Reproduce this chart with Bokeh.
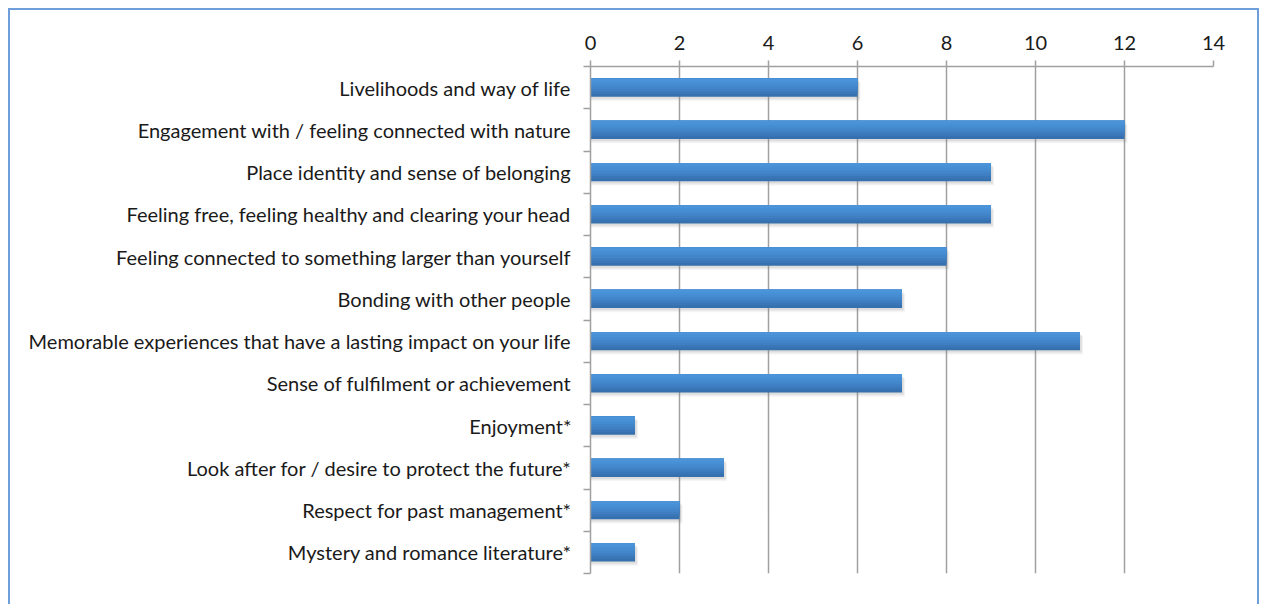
from bokeh.plotting import figure
from bokeh.models import Range1d, FixedTicker, ColumnDataSource
from bokeh.transform import dodge
from bokeh.embed import file_html
from bokeh.resources import INLINE

categories = [
    "Livelihoods and way of life",
    "Engagement with / feeling connected with nature",
    "Place identity and sense of belonging",
    "Feeling free, feeling healthy and clearing your head",
    "Feeling connected to something larger than yourself",
    "Bonding with other people",
    "Memorable experiences that have a lasting impact on your life",
    "Sense of fulfilment or achievement",
    "Enjoyment*",
    "Look after for / desire to protect the future*",
    "Respect for past management*",
    "Mystery and romance literature*",
]
values = [6, 12, 9, 9, 8, 7, 11, 7, 1, 3, 2, 1]
x_ticks = [0, 2, 4, 6, 8, 10, 12, 14]

n = len(categories)
ypos = [i + 0.5 for i in range(n)]
src = ColumnDataSource(dict(y=ypos, v=values, name=categories))

FONT = "Lato"
p = figure(width=1251, height=596, x_range=Range1d(0, 14), y_range=Range1d(n, 0),
           x_axis_location="above", output_backend="svg", toolbar_location=None,
           min_border_left=580, min_border_right=48, min_border_top=56, min_border_bottom=33)
p.styles = {"border-top": "2px solid #6f9fda", "border-left": "2px solid #6f9fda",
            "border-right": "2px solid #6f9fda", "box-sizing": "border-box",
            "margin-left": "8px", "margin-top": "8px"}
p.outline_line_color = None
p.background_fill_color = "white"
p.border_fill_color = "white"

# x axis (top)
p.xaxis.ticker = FixedTicker(ticks=x_ticks)
p.xaxis.axis_line_color = "#a0a0a0"
p.xaxis.axis_line_width = 1.5
p.xaxis.major_tick_line_color = "#a0a0a0"
p.xaxis.major_tick_line_width = 1.5
p.xaxis.major_tick_out = 6
p.xaxis.major_tick_in = 0
p.xaxis.minor_tick_line_color = None
p.xaxis.major_label_text_font = FONT
p.xaxis.major_label_text_font_size = "20px"
p.xaxis.major_label_text_color = "#1a1a1a"
p.xaxis.major_label_standoff = 11

# y axis (left)
p.yaxis.ticker = FixedTicker(ticks=ypos, minor_ticks=list(range(n + 1)))
p.yaxis.major_label_overrides = {y: c for y, c in zip(ypos, categories)}
p.yaxis.axis_line_color = "#a0a0a0"
p.yaxis.axis_line_width = 1.5
p.yaxis.major_tick_line_color = None
p.yaxis.major_tick_out = 6
p.yaxis.minor_tick_line_color = "#a0a0a0"
p.yaxis.minor_tick_line_width = 1.5
p.yaxis.minor_tick_out = 7
p.yaxis.minor_tick_in = 0
p.yaxis.major_label_text_font = FONT
p.yaxis.major_label_text_font_size = "20px"
p.yaxis.major_label_text_color = "#1a1a1a"
p.yaxis.major_label_standoff = 12

p.ygrid.grid_line_color = None
p.xgrid.ticker = FixedTicker(ticks=x_ticks)
p.xgrid.grid_line_color = "#a0a0a0"
p.xgrid.grid_line_width = 1.5

h = 0.43
# soft shadow
for off, a in [(0.10, 0.07), (0.075, 0.09), (0.05, 0.13)]:
    p.hbar(y=dodge("y", off, range=p.y_range), left=0, right=dodge("v", off * 0.7), height=h,
           source=src, fill_color="#808080", fill_alpha=a, line_color=None)

# gradient bar: nested layers from bar top, darkest (full) first, lightest (thinnest) last
strip_colors = ["#4b94da", "#4890d6", "#458bd0", "#4285c9", "#3e7ec1", "#3a77b8", "#3670ae"]
ns = len(strip_colors)
for k in range(ns - 1, -1, -1):
    hk = (k + 1) * h / ns
    off = -h / 2 + hk / 2
    p.hbar(y=dodge("y", off, range=p.y_range), left=0, right="v", height=hk,
           source=src, fill_color=strip_colors[k], line_color=None)

html = file_html(p, INLINE)
open("out.html", "w").write(html)
